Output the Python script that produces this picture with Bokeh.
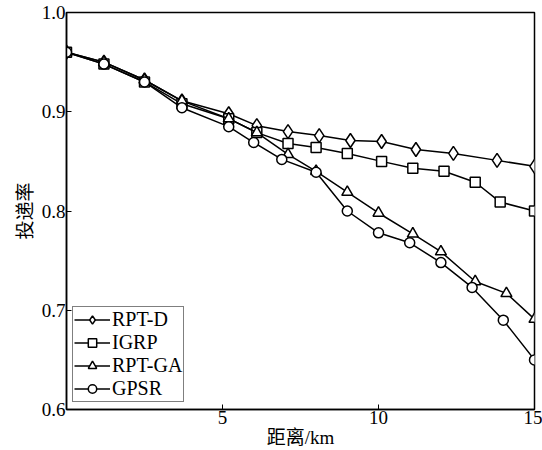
from bokeh.plotting import figure
from bokeh.models import FixedTicker, Range1d, Legend, LegendItem
from bokeh.embed import file_html
from bokeh.resources import INLINE

x_rptd = [0, 1.2, 2.5, 3.7, 5.2, 6.1, 7.1, 8.1, 9.1, 10.1, 11.2, 12.4, 13.8, 15]
rptd = [0.960, 0.950, 0.932, 0.911, 0.898, 0.886, 0.880, 0.876, 0.871, 0.870, 0.862, 0.858, 0.851, 0.845]

x_igrp = [0, 1.2, 2.5, 3.7, 5.2, 6.1, 7.1, 8.0, 9.0, 10.1, 11.1, 12.1, 13.1, 13.9, 15]
igrp = [0.960, 0.948, 0.930, 0.908, 0.893, 0.879, 0.868, 0.864, 0.858, 0.850, 0.843, 0.840, 0.829, 0.809, 0.800]

x_ga = [0, 1.2, 2.5, 3.7, 5.2, 6.1, 7.1, 8.0, 9.0, 10.0, 11.1, 12.0, 13.1, 14.1, 15]
ga = [0.960, 0.950, 0.932, 0.911, 0.893, 0.879, 0.857, 0.840, 0.819, 0.798, 0.777, 0.759, 0.729, 0.717, 0.691]

x_gpsr = [0, 1.2, 2.5, 3.7, 5.2, 6.0, 6.9, 8.0, 9.0, 10.0, 11.0, 12.0, 13.0, 14.0, 15]
gpsr = [0.960, 0.948, 0.930, 0.904, 0.885, 0.869, 0.852, 0.839, 0.800, 0.778, 0.768, 0.748, 0.723, 0.690, 0.650]

x_ticks = [5, 10, 15]
y_ticks = [0.6, 0.7, 0.8, 0.9, 1.0]
y_tick_labels = {0.6: "0.6", 0.7: "0.7", 0.8: "0.8", 0.9: "0.9", 1.0: "1.0"}

series = [
    ("RPT-D", x_rptd, rptd, "diamond", 14),
    ("IGRP", x_igrp, igrp, "square", 10),
    ("RPT-GA", x_ga, ga, "triangle", 11),
    ("GPSR", x_gpsr, gpsr, "circle", 10),
]

p = figure(width=542, height=450, output_backend="svg", toolbar_location=None,
           x_range=Range1d(0, 15), y_range=Range1d(0.6, 1.0),
           min_border_left=66, min_border_right=8, min_border_top=12, min_border_bottom=40)
p.grid.visible = False
p.background_fill_color = "white"
p.border_fill_color = "white"
p.outline_line_color = "black"
p.outline_line_width = 1.5

serif = "Liberation Serif"
mixed = "Liberation Serif, Noto Sans CJK SC"

p.xaxis.ticker = FixedTicker(ticks=x_ticks)
p.yaxis.ticker = FixedTicker(ticks=y_ticks)
p.yaxis.major_label_overrides = y_tick_labels
for ax in (p.xaxis, p.yaxis):
    ax.major_tick_in = 5
    ax.major_tick_out = 0
    ax.minor_tick_line_color = None
    ax.axis_line_width = 1.5
    ax.axis_line_color = "black"
    ax.major_tick_line_color = "black"
    ax.major_label_text_font = serif
    ax.major_label_text_font_size = "19px"
    ax.major_label_text_color = "black"
    ax.axis_label_text_font = mixed
    ax.axis_label_text_font_size = "19px"
    ax.axis_label_text_font_style = "normal"
    ax.axis_label_text_color = "black"
p.xaxis.axis_label = "距离/km"
p.yaxis.axis_label = "投递率"
p.xaxis.major_label_standoff = 1
p.xaxis.axis_label_standoff = 0
p.yaxis.major_label_standoff = 1
p.yaxis.axis_label_standoff = 3

items = []
for name, xs, ys, marker, size in series:
    r1 = p.line(xs, ys, line_color="black", line_width=1.5)
    r2 = p.scatter(xs, ys, marker=marker, size=size, fill_color="white",
                   line_color="black", line_width=1.5)
    items.append(LegendItem(label=name, renderers=[r1, r2]))

legend = Legend(items=items, location=(6, 7))
legend.label_text_font = serif
legend.label_text_font_size = "20px"
legend.label_text_color = "black"
legend.border_line_color = "black"
legend.border_line_width = 1.5
legend.padding = 1
legend.spacing = 0
legend.margin = 0
legend.label_height = 21
legend.glyph_height = 21
legend.glyph_width = 36
legend.label_standoff = 2
legend.background_fill_alpha = 1.0
p.add_layout(legend, "center")

open("out.html", "w").write(file_html(p, INLINE))
